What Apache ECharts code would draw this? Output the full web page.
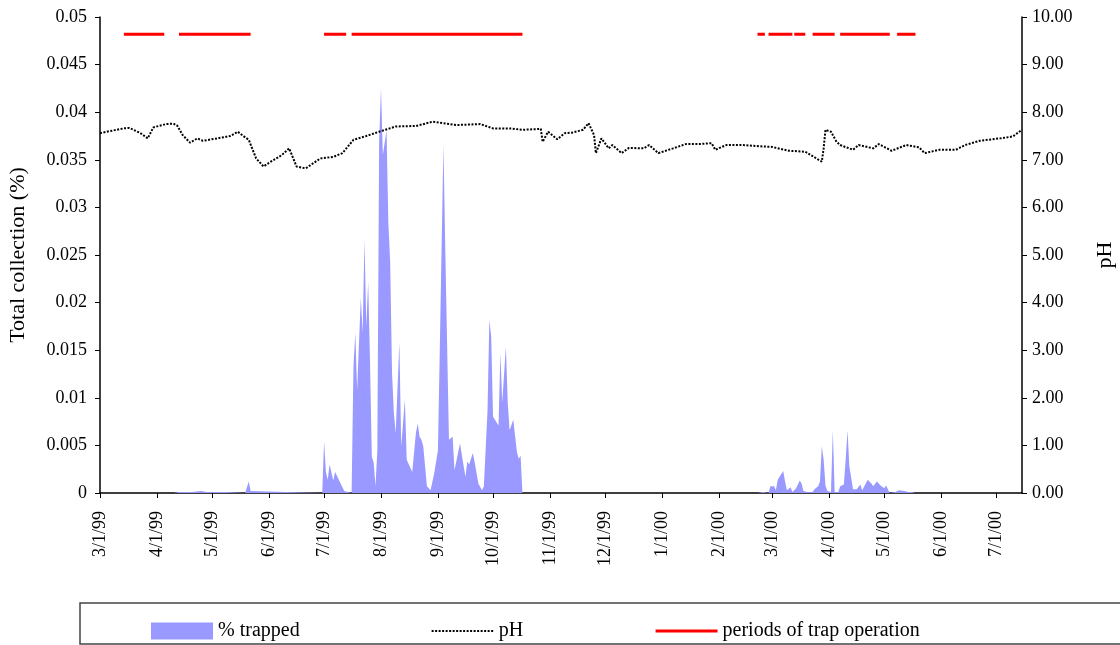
<!DOCTYPE html>
<html>
<head>
<meta charset="utf-8">
<script src="https://cdn.jsdelivr.net/npm/echarts@6/dist/echarts.min.js"></script>
<style>
    html, body { margin: 0; padding: 0; background: #fff; }
    #main { width: 1120px; height: 645px; }
</style>
</head>
<body>
<div id="main"></div>
<script>
// tick labels on the date axis (first of each month)
let monthTicks = ['3/1/99', '4/1/99', '5/1/99', '6/1/99', '7/1/99', '8/1/99', '9/1/99', '10/1/99',
    '11/1/99', '12/1/99', '1/1/00', '2/1/00', '3/1/00', '4/1/00', '5/1/00', '6/1/00', '7/1/00']

// % trapped, day = days after 3/1/99
let trapDay = [0, 40, 43, 50, 55, 56, 58, 69, 79, 80, 81, 82, 83,
    121, 122, 123, 124, 125, 126, 127, 128, 129, 130, 131, 133, 134,
    137, 138, 139, 140, 142, 143, 144, 145, 146, 147, 148, 149, 150, 151, 152, 153, 154, 156, 157, 158, 159, 160,
    161, 162, 163, 164, 165, 166, 167, 168, 170, 172, 173, 174, 175, 176, 178, 180, 182, 184, 185, 187, 188, 190,
    191, 192, 193, 194, 196, 197, 198, 199, 200, 201, 203, 204, 205, 206, 208, 209, 211, 212, 213, 214, 215, 217,
    218, 219, 221, 222, 223, 224, 225, 227, 228, 229, 230,
    358, 361, 364, 365, 367, 368, 369, 370, 372, 373, 374, 375, 376, 377, 379, 380, 381, 382, 383, 385, 388, 389,
    391, 392, 393, 394, 395, 396, 398, 399, 400, 402, 403, 405, 406, 407, 408, 410, 412, 414, 415, 416, 418, 420,
    421, 423, 425, 427, 428, 429, 430, 433, 435, 438, 440, 442, 443, 444, 502]
let trapPct = [0, 0, 0.0001, 0.0001, 0.0002, 0.0003, 0.0001, 0.0001, 0, 0.0006, 0.0012, 0.0002, 0,
    0, 0.0054, 0.0022, 0.0014, 0.003, 0.0028, 0.0013, 0.0022, 0.0018, 0.0016, 0.001, 0.0002, 0,
    0, 0.0133, 0.0168, 0.0108, 0.0205, 0.0168, 0.0266, 0.0175, 0.0222, 0.014, 0.0038, 0.0032, 0.0007, 0.0045, 0.0371, 0.0425, 0.0355, 0.0381, 0.0284, 0.0242, 0.0126, 0.0084,
    0.0063, 0.0065, 0.0158, 0.0049, 0.0049, 0.0098, 0.0035, 0.0037, 0.0022, 0.0063, 0.0073, 0.0059, 0.0056, 0.0049, 0.0007, 0.0003, 0.0021, 0.0045, 0.015, 0.0366, 0.0255, 0.0056,
    0.0056, 0.0059, 0.0024, 0.0024, 0.0052, 0.005, 0.0028, 0.0017, 0.0033, 0.003, 0.0042, 0.0032, 0.0031, 0.001, 0.0003, 0.0007, 0.0087, 0.0182, 0.0164, 0.008, 0.0082, 0.0071,
    0.0147, 0.0095, 0.0154, 0.0095, 0.0066, 0.0066, 0.0077, 0.0043, 0.0036, 0.0039, 0,
    0, 0.0001, 0, 0.0007, 0.0007, 0.0003, 0.0014, 0.0017, 0.0023, 0.0012, 0.0003, 0.0002, 0.0006, 0.0001, 0.0005, 0.0005, 0.0013, 0.001, 0.0002, 0.0001, 0.0001, 0.0004,
    0.0007, 0.0012, 0.0049, 0.0035, 0.0008, 0.0002, 0.0001, 0.0066, 0.0001, 0.0001, 0.0007, 0.0009, 0.0035, 0.0066, 0.0028, 0.0004, 0.0004, 0.0009, 0.0003, 0.0005, 0.0014, 0.001,
    0.0007, 0.0012, 0.0008, 0.0005, 0.0008, 0.0009, 0, 0.0001, 0.0003, 0.0002, 0.0001, 0.0001, 0.0002, 0, 0]

// pH readings
let phDay = [0, 5, 13, 16, 22, 26, 29, 36, 40, 42, 45, 49, 53, 56, 64, 71, 75, 78, 81, 85, 89, 93, 99, 103, 107,
    112, 120, 127, 132, 138, 145, 152, 161, 172, 181, 194, 207, 214, 223, 230, 240, 241, 244, 249, 253, 257, 263,
    266, 269, 270, 273, 277, 279, 284, 288, 296, 299, 304, 312, 319, 326, 333, 335, 341, 350, 357, 366, 375, 384,
    390, 393, 394, 395, 398, 401, 403, 410, 413, 421, 424, 431, 439, 446, 449, 457, 466, 471, 479, 490, 497, 502]
let phValue = [7.56, 7.6, 7.66, 7.67, 7.56, 7.45, 7.68, 7.75, 7.76, 7.72, 7.52, 7.36, 7.45, 7.4, 7.45, 7.5, 7.59, 7.5, 7.42, 7.03, 6.86, 6.96, 7.1, 7.24, 6.86,
    6.82, 7.03, 7.06, 7.14, 7.42, 7.5, 7.59, 7.7, 7.71, 7.8, 7.73, 7.75, 7.66, 7.66, 7.63, 7.65, 7.38, 7.59, 7.43, 7.56, 7.57, 7.63,
    7.77, 7.52, 7.14, 7.45, 7.24, 7.31, 7.14, 7.25, 7.24, 7.31, 7.14, 7.24, 7.33, 7.33, 7.35, 7.21, 7.31, 7.31, 7.29, 7.27, 7.19, 7.17,
    7.03, 6.96, 7.24, 7.63, 7.59, 7.38, 7.31, 7.21, 7.31, 7.24, 7.33, 7.19, 7.31, 7.26, 7.14, 7.21, 7.21, 7.31, 7.4, 7.45, 7.49, 7.63]

// periods of trap operation (start / end day)
let opStart = [13, 43, 122, 137, 358, 364, 378, 388, 403, 434]
let opEnd = [35, 82, 134, 230, 362, 377, 384, 400, 430, 444]
let opLevel = 0.0482

// one category per day, 3/1/99 .. 7/15/00
let days = []
for (let i = 0; i <= 502; i++) {
    let d = new Date(1999, 2, 1 + i)
    days.push((d.getMonth() + 1) + '/' + d.getDate() + '/' + String(d.getFullYear()).slice(2))
}
let isMonthTick = function (idx) {
    return monthTicks.indexOf(days[idx]) >= 0
}

let trapData = trapDay.map((d, i) => [d, trapPct[i]])
let phData = phDay.map((d, i) => [d, phValue[i]])
let opData = []
opStart.forEach((s, i) => {
    opData.push([s, opLevel], [opEnd[i], opLevel], [opEnd[i], '-'])
})

let font = 'Liberation Serif'
let myChart = echarts.init(document.getElementById('main'))
myChart.setOption({
    animation: false,
    textStyle: { fontFamily: font, color: '#000' },
    grid: { left: 100, right: 98, top: 17, bottom: 152, containLabel: false, outerBoundsMode: 'none' },
    legend: {
        left: 146,
        top: 616,
        itemWidth: 62,
        itemHeight: 17,
        itemGap: 131,
        textStyle: { fontFamily: font, fontSize: 20, color: '#000' },
        data: [
            { name: '% trapped', icon: 'rect' },
            { name: 'pH', itemStyle: { opacity: 0 } },
            { name: 'periods of trap operation', itemStyle: { opacity: 0 }, lineStyle: { width: 3 } }
        ]
    },
    graphic: [{
        type: 'rect',
        shape: { x: 80, y: 603, width: 1045, height: 41 },
        style: { fill: 'none', stroke: '#444', lineWidth: 1.5 }
    }],
    xAxis: {
        type: 'category',
        data: days,
        boundaryGap: false,
        axisLine: { lineStyle: { color: '#000', width: 1.5 } },
        axisTick: { interval: isMonthTick, length: 5, lineStyle: { color: '#000' } },
        axisLabel: { interval: isMonthTick, rotate: 90, margin: 18, fontSize: 18, fontFamily: font, color: '#000' },
        splitLine: { show: false }
    },
    yAxis: [{
        type: 'value',
        min: 0,
        max: 0.05,
        interval: 0.005,
        name: 'Total collection (%)',
        nameLocation: 'middle',
        nameGap: 71,
        nameTextStyle: { fontSize: 22, fontFamily: font, color: '#000' },
        axisLine: { show: true, lineStyle: { color: '#000', width: 1.5 } },
        axisTick: { show: true, length: 5, lineStyle: { color: '#000' } },
        axisLabel: { fontSize: 18, fontFamily: font, color: '#000', margin: 13,
            formatter: v => String(+v.toFixed(3)) },
        splitLine: { show: false }
    }, {
        type: 'value',
        min: 0,
        max: 10,
        interval: 1,
        name: 'pH',
        nameLocation: 'middle',
        nameGap: 72,
        nameTextStyle: { fontSize: 22, fontFamily: font, color: '#000' },
        axisLine: { show: true, lineStyle: { color: '#000', width: 1.5 } },
        axisTick: { show: true, length: 5, lineStyle: { color: '#000' } },
        axisLabel: { fontSize: 18, fontFamily: font, color: '#000', margin: 10,
            formatter: v => v.toFixed(2) },
        splitLine: { show: false }
    }],
    series: [{
        name: '% trapped',
        type: 'line',
        data: trapData,
        symbol: 'none',
        lineStyle: { width: 0 },
        itemStyle: { color: '#9999FF' },
        areaStyle: { color: '#9999FF', opacity: 1 },
        z: 1
    }, {
        name: 'pH',
        type: 'line',
        yAxisIndex: 1,
        data: phData,
        symbol: 'none',
        itemStyle: { color: '#000' },
        lineStyle: { color: '#000', width: 2, type: [2, 1.5] },
        z: 3
    }, {
        name: 'periods of trap operation',
        type: 'line',
        data: opData,
        symbol: 'none',
        connectNulls: false,
        itemStyle: { color: '#FF0000' },
        lineStyle: { color: '#FF0000', width: 3 },
        z: 4
    }]
})
</script>
</body>
</html>
